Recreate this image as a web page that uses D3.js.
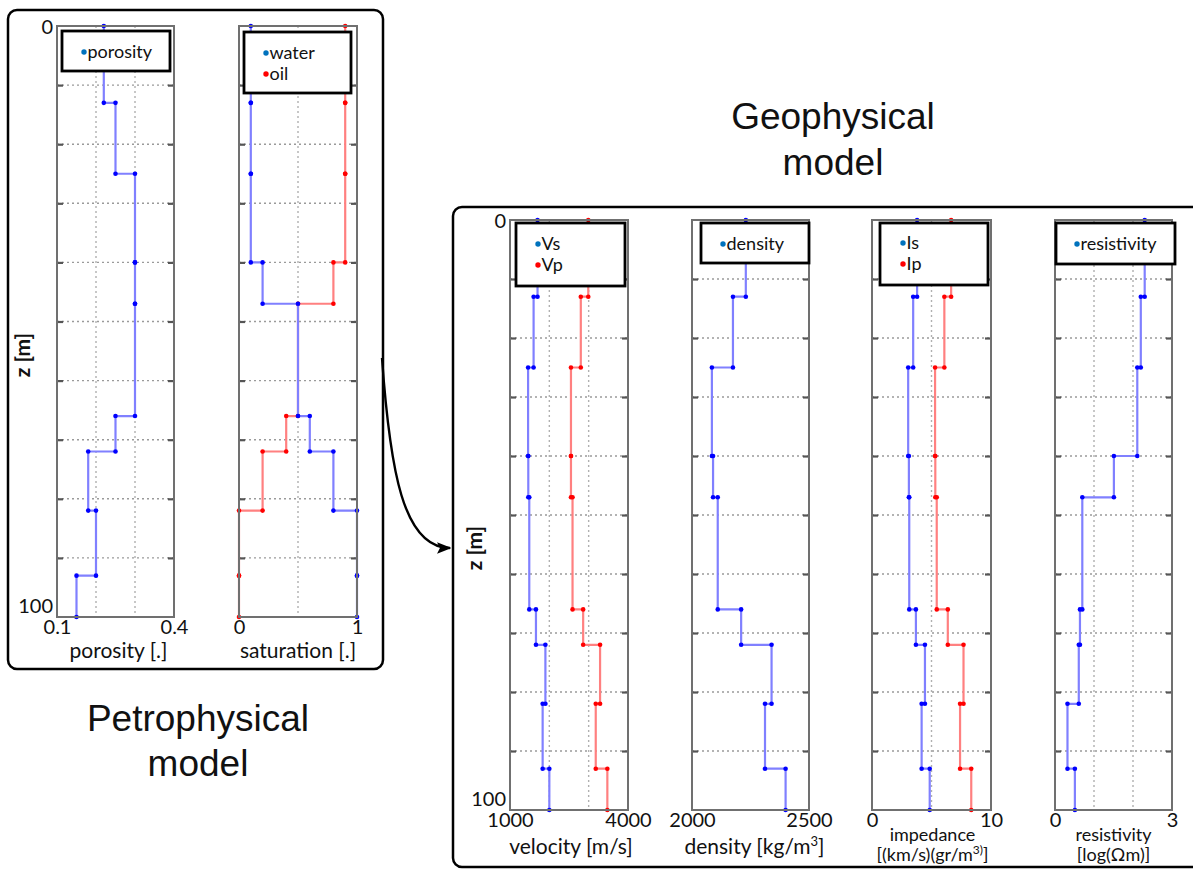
<!DOCTYPE html>
<html>
<head>
<meta charset="utf-8">
<script src="https://cdn.jsdelivr.net/npm/d3@7/dist/d3.min.js"></script>
<style>
  html, body { margin: 0; padding: 0; background: #fff; }
  svg { display: block; }
  .tick text { font-family: Lato, "Open Sans", sans-serif; }
</style>
</head>
<body>
<script>
// Layer boundaries (depth in m); each property below holds one value per layer
const depthBoundaries = [0, 13, 25, 40, 47, 66, 72, 82, 93, 100];

// Petrophysical properties
const porosity   = [0.22, 0.25, 0.30, 0.30, 0.30, 0.25, 0.18, 0.20, 0.15];
const waterSat   = [0.10, 0.10, 0.10, 0.20, 0.50, 0.60, 0.80, 1.00, 1.00];
const oilSat     = [0.90, 0.90, 0.90, 0.80, 0.50, 0.40, 0.20, 0.00, 0.00];

// Geophysical properties
const vs          = [1700, 1600, 1460, 1465, 1490, 1660, 1900, 1830, 2000];
const vp          = [2990, 2800, 2550, 2550, 2590, 2860, 3290, 3180, 3475];
const density     = [2230, 2175, 2085, 2090, 2110, 2210, 2340, 2312, 2400];
const is          = [3.79, 3.46, 3.04, 3.10, 3.13, 3.69, 4.45, 4.17, 4.85];
const ip          = [6.65, 6.08, 5.30, 5.32, 5.44, 6.37, 7.69, 7.40, 8.34];
const resistivity = [2.30, 2.20, 2.11, 1.51, 0.70, 0.64, 0.61, 0.32, 0.51];

// Axis ranges and tick labels
const depthTicks = [0, 100];
const porosityTicks = [0.1, 0.4];
const saturationTicks = [0, 1];
const velocityTicks = [1000, 4000];
const densityTicks = [2000, 2500];
const impedanceTicks = [0, 10];
const resistivityTicks = [0, 3];

const W = 1193, H = 869;
const BLUE = { line: "#8080ff", dot: "#0000ff" };
const RED = { line: "#ff8080", dot: "#ff0000" };
const LEG_BLUE = "#0072bd", LEG_RED = "#ff0000";
const LABEL_FONT = "Lato, 'Open Sans', sans-serif";
const TITLE_FONT = "'Liberation Sans', Arial, sans-serif";

const svg = d3.select("body").append("svg")
  .attr("width", W).attr("height", H);

svg.append("defs").append("marker")
  .attr("id", "arrowhead")
  .attr("viewBox", "0 0 10 10")
  .attr("refX", 9).attr("refY", 5)
  .attr("markerWidth", 6).attr("markerHeight", 6)
  .attr("orient", "auto")
  .append("path").attr("d", "M0,1 L10,5 L0,9 L2,5 Z").attr("fill", "#000");

// Frames around the two model groups
svg.append("rect").attr("x", 8).attr("y", 10).attr("width", 375).attr("height", 659)
  .attr("rx", 9).attr("fill", "none").attr("stroke", "#000").attr("stroke-width", 2.5);
svg.append("rect").attr("x", 453).attr("y", 207).attr("width", 760).attr("height", 660)
  .attr("rx", 9).attr("fill", "none").attr("stroke", "#000").attr("stroke-width", 2.5);

// Connector arrow
svg.append("path")
  .attr("d", "M382,358 C390,470 403,548 450,548")
  .attr("fill", "none").attr("stroke", "#000").attr("stroke-width", 2.4)
  .attr("marker-end", "url(#arrowhead)");

// Group titles
function title(lines, cx, y0, dy) {
  const t = svg.append("text").attr("font-family", TITLE_FONT)
    .attr("font-size", 37).attr("text-anchor", "middle").attr("fill", "#111");
  lines.forEach((s, i) => t.append("tspan").attr("x", cx).attr("y", y0 + i * dy).text(s));
}
title(["Petrophysical", "model"], 198, 731, 45);
title(["Geophysical", "model"], 833, 129, 46);

function stepVertices(values) {
  const pts = [];
  values.forEach((v, i) => {
    pts.push([v, depthBoundaries[i]]);
    pts.push([v, depthBoundaries[i + 1]]);
  });
  return pts;
}

function panel(o) {
  const g = svg.append("g");
  const x = d3.scaleLinear().domain(o.domain).range([o.x0, o.x1]);
  const y = d3.scaleLinear().domain([0, 100]).range([o.y0, o.y1]);

  // horizontal dotted grid
  g.append("g").selectAll("line").data(d3.range(10, 100, 10)).join("line")
    .attr("x1", o.x0).attr("x2", o.x1)
    .attr("y1", d => y(d)).attr("y2", d => y(d))
    .attr("stroke", "#9a9a9a").attr("stroke-width", 1.4).attr("stroke-dasharray", "2,3");
  // vertical dotted grid
  g.append("g").selectAll("line").data(o.grid).join("line")
    .attr("x1", d => x(d)).attr("x2", d => x(d))
    .attr("y1", o.y0).attr("y2", o.y1)
    .attr("stroke", "#b0b0b0").attr("stroke-width", 1.4).attr("stroke-dasharray", "2,3");

  // inner depth tick marks on both sides
  const tickL = d3.axisRight(y).tickValues(d3.range(10, 100, 10)).tickSize(6).tickFormat("");
  const tickR = d3.axisLeft(y).tickValues(d3.range(10, 100, 10)).tickSize(6).tickFormat("");
  [[tickL, o.x0], [tickR, o.x1]].forEach(([ax, px]) => {
    const a = g.append("g").attr("transform", `translate(${px},0)`).call(ax);
    a.select(".domain").remove();
    a.selectAll("line").attr("stroke", "#555").attr("stroke-width", 2.2);
  });

  // step profiles with vertex markers
  const line = d3.line().x(d => x(d[0])).y(d => y(d[1]));
  o.series.slice().reverse().forEach(s => {
    const pts = stepVertices(s.values);
    g.append("path").attr("d", line(pts)).attr("fill", "none")
      .attr("stroke", s.color.line).attr("stroke-width", 2.2);
    g.append("g").selectAll("circle").data(pts).join("circle")
      .attr("cx", d => x(d[0])).attr("cy", d => y(d[1])).attr("r", 2.3)
      .attr("fill", s.color.dot);
  });

  // axes frame
  g.append("rect").attr("x", o.x0).attr("y", o.y0)
    .attr("width", o.x1 - o.x0).attr("height", o.y1 - o.y0)
    .attr("fill", "none").attr("stroke", "#707070").attr("stroke-width", 2);

  // x tick labels (range ends only)
  const xa = g.append("g").attr("transform", `translate(0,${o.y1})`)
    .call(d3.axisBottom(x).tickValues(o.ticks).tickSize(0).tickPadding(3).tickFormat(d3.format("")));
  xa.select(".domain").remove();
  xa.selectAll("text").attr("font-size", 20).attr("fill", "#111").attr("font-family", LABEL_FONT);

  // depth labels on the leftmost panel of a group
  if (o.showDepth) {
    const ya = g.append("g").attr("transform", `translate(${o.x0},0)`)
      .call(d3.axisLeft(y).tickValues(depthTicks).tickSize(0).tickPadding(4));
    ya.select(".domain").remove();
    ya.selectAll("text").attr("font-size", 20).attr("fill", "#111").attr("font-family", LABEL_FONT)
      .attr("dy", d => d === 100 ? "-0.22em" : "0.35em");
    g.append("text").attr("transform", `translate(${o.zx},${o.zy}) rotate(-90)`)
      .attr("text-anchor", "middle").attr("font-family", LABEL_FONT)
      .attr("font-size", 21).attr("font-weight", 700).attr("fill", "#111").text("z [m]");
  }

  // axis title lines
  o.xlabel.forEach((s, i) => {
    g.append("text").attr("x", (o.x0 + o.x1) / 2 + (o.labelDx || 0)).attr("y", o.labelY + i * 20)
      .attr("text-anchor", "middle").attr("font-family", LABEL_FONT)
      .attr("font-size", o.labelSize || 21).attr("fill", "#111").html(s);
  });

  // legend box
  const L = o.legend;
  g.append("rect").attr("x", L.x).attr("y", L.y).attr("width", L.w).attr("height", L.h)
    .attr("fill", "#fff").attr("stroke", "#000").attr("stroke-width", 2.8);
  L.items.forEach((it, i) => {
    const cy = L.ty + i * 21;
    g.append("circle").attr("cx", L.tx).attr("cy", cy).attr("r", 2.7).attr("fill", it.color);
    g.append("text").attr("x", L.tx + 3.5).attr("y", cy + 6)
      .attr("font-family", LABEL_FONT).attr("font-size", 18).attr("fill", "#111").text(it.label);
  });
}

// Petrophysical panels
const PY0 = 26, PY1 = 617;
panel({
  x0: 57, x1: 174, y0: PY0, y1: PY1, domain: [0.1, 0.4], grid: [0.2, 0.3],
  ticks: porosityTicks, showDepth: true, zx: 30, zy: 355,
  series: [{ values: porosity, color: BLUE }],
  xlabel: ["porosity [.]"], labelY: 658, labelDx: 3,
  legend: { x: 62, y: 31, w: 108, h: 40, tx: 84, ty: 52,
    items: [{ label: "porosity", color: LEG_BLUE }] }
});
panel({
  x0: 239, x1: 357, y0: PY0, y1: PY1, domain: [0, 1], grid: [0.5],
  ticks: saturationTicks,
  series: [{ values: waterSat, color: BLUE }, { values: oilSat, color: RED }],
  xlabel: ["saturation [.]"], labelY: 658,
  legend: { x: 244, y: 32, w: 107, h: 61, tx: 266, ty: 53,
    items: [{ label: "water", color: LEG_BLUE }, { label: "oil", color: LEG_RED }] }
});

// Geophysical panels
const GY0 = 220, GY1 = 810;
panel({
  x0: 510, x1: 628, y0: GY0, y1: GY1, domain: [1000, 4000], grid: [2000, 3000],
  ticks: velocityTicks, showDepth: true, zx: 482, zy: 548,
  series: [{ values: vs, color: BLUE }, { values: vp, color: RED }],
  xlabel: ["velocity [m/s]"], labelY: 854, labelDx: 2,
  legend: { x: 516, y: 223, w: 109, h: 63, tx: 538, ty: 244,
    items: [{ label: "Vs", color: LEG_BLUE }, { label: "Vp", color: LEG_RED }] }
});
panel({
  x0: 692, x1: 809, y0: GY0, y1: GY1, domain: [2000, 2500], grid: [],
  ticks: densityTicks,
  series: [{ values: density, color: BLUE }],
  xlabel: ["density [kg/m<tspan dy='-8' font-size='13'>3</tspan><tspan dy='8'>]</tspan>"],
  labelY: 854, labelDx: 4,
  legend: { x: 701, y: 223, w: 108, h: 40, tx: 723, ty: 244,
    items: [{ label: "density", color: LEG_BLUE }] }
});
panel({
  x0: 872, x1: 991, y0: GY0, y1: GY1, domain: [0, 10], grid: [5],
  ticks: impedanceTicks,
  series: [{ values: is, color: BLUE }, { values: ip, color: RED }],
  xlabel: ["impedance", "[(km/s)(gr/m<tspan dy='-7' font-size='12'>3)</tspan><tspan dy='7'>]</tspan>"],
  labelY: 841, labelSize: 18, labelDx: 1,
  legend: { x: 880, y: 223, w: 108, h: 62, tx: 903, ty: 243,
    items: [{ label: "Is", color: LEG_BLUE }, { label: "Ip", color: LEG_RED }] }
});
panel({
  x0: 1055, x1: 1172, y0: GY0, y1: GY1, domain: [0, 3], grid: [1, 2],
  ticks: resistivityTicks,
  series: [{ values: resistivity, color: BLUE }],
  xlabel: ["resistivity", "[log(Ωm)]"], labelY: 841, labelSize: 18,
  legend: { x: 1056, y: 223, w: 119, h: 41, tx: 1077, ty: 244,
    items: [{ label: "resistivity", color: LEG_BLUE }] }
});
</script>
</body>
</html>
